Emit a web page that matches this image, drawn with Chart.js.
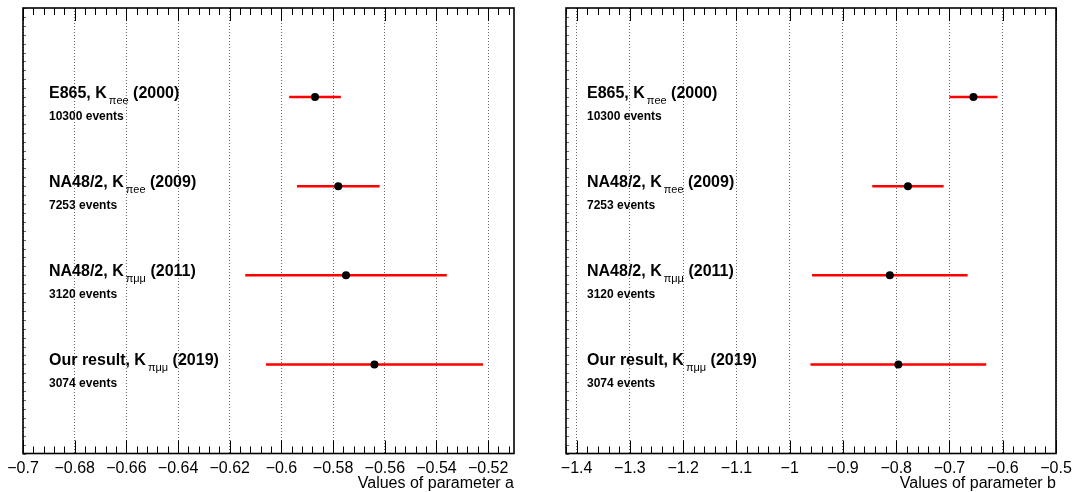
<!DOCTYPE html>
<html>
<head>
<meta charset="utf-8">
<script src="https://cdn.jsdelivr.net/npm/chart.js@4.4.1/dist/chart.umd.min.js"></script>
<style>
  html, body { margin: 0; padding: 0; background: #fff; }
  #wrap { position: relative; width: 1079px; height: 492px; overflow: hidden; }
  .pane { position: absolute; top: 0; height: 492px; }
  #paneA { left: 0; width: 540px; }
  #paneB { left: 540px; width: 539px; }
</style>
</head>
<body>
<div id="wrap">
  <div class="pane" id="paneA"><canvas id="chartA" width="540" height="492"></canvas></div>
  <div class="pane" id="paneB"><canvas id="chartB" width="539" height="492"></canvas></div>
</div>
<script>
// measurements, top to bottom
var EXPERIMENTS = ['E865, K', 'NA48/2, K', 'NA48/2, K', 'Our result, K'];
var CHANNELS = ['\u03c0ee', '\u03c0ee', '\u03c0\u03bc\u03bc', '\u03c0\u03bc\u03bc'];
var YEARS = ['(2000)', '(2009)', '(2011)', '(2019)'];
var EVENTS = ['10300 events', '7253 events', '3120 events', '3074 events'];
var ROWS = [4, 3, 2, 1];

var PARAM_A = [-0.587, -0.578, -0.575, -0.564];
var ERR_A = [0.010, 0.016, 0.039, 0.042];
var PARAM_B = [-0.655, -0.778, -0.812, -0.796];
var ERR_B = [0.045, 0.067, 0.146, 0.165];

var TICKS_A = [-0.7, -0.68, -0.66, -0.64, -0.62, -0.6, -0.58, -0.56, -0.54, -0.52];
var TICKS_B = [-1.4, -1.3, -1.2, -1.1, -1, -0.9, -0.8, -0.7, -0.6, -0.5];

var FONT = "'Liberation Sans', Arial, Helvetica, sans-serif";

// frame + inward ticks (ROOT style)
var framePlugin = {
    id: 'frame',
    afterDraw: function (chart, args, opts) {
        var ctx = chart.ctx;
        var a = chart.chartArea;
        var xs = chart.scales.x;
        var ys = chart.scales.y;
        var ticks = opts.ticks;
        var step = (ticks[1] - ticks[0]) / 5;

        ctx.save();
        ctx.strokeStyle = '#000';
        ctx.lineWidth = 1;
        ctx.beginPath();
        for (var k = -5; k <= ticks.length * 5; k++) {
            var v = ticks[0] + k * step;
            if (v < xs.min - 1e-9 || v > xs.max + 1e-9) continue;
            var px = Math.round(xs.getPixelForValue(v)) + 0.5;
            var len = (k % 5 === 0) ? 13 : 7;
            ctx.moveTo(px, a.bottom);
            ctx.lineTo(px, a.bottom - len);
            ctx.moveTo(px, a.top);
            ctx.lineTo(px, a.top + len);
        }
        ctx.stroke();

        // tiny ticks on the left edge
        ctx.strokeStyle = 'rgba(0,0,0,0.6)';
        ctx.beginPath();
        for (var y = ys.min; y <= ys.max + 1e-9; y += 0.1) {
            var py = Math.round(ys.getPixelForValue(y)) + 0.5;
            ctx.moveTo(a.left, py);
            ctx.lineTo(a.left + 3, py);
        }
        ctx.stroke();

        ctx.strokeStyle = '#000';
        ctx.lineWidth = 1.6;
        ctx.strokeRect(a.left, a.top, a.right - a.left, a.bottom - a.top);
        ctx.restore();
    }
};

// experiment labels
var labelPlugin = {
    id: 'labels',
    afterDraw: function (chart, args, opts) {
        var ctx = chart.ctx;
        var a = chart.chartArea;
        var ys = chart.scales.y;
        ctx.save();
        ctx.fillStyle = '#000';
        ctx.textBaseline = 'alphabetic';
        ctx.textAlign = 'left';
        for (var i = 0; i < EXPERIMENTS.length; i++) {
            var x0 = a.left + opts.dx;
            var y = ys.getPixelForValue(ROWS[i]) + 1;
            var x = x0;
            ctx.font = 'bold 16px ' + FONT;
            ctx.fillText(EXPERIMENTS[i], x, y);
            x += ctx.measureText(EXPERIMENTS[i]).width + 2;
            ctx.font = '11px ' + FONT;
            ctx.fillText(CHANNELS[i], x, y + 6);
            x += ctx.measureText(CHANNELS[i]).width;
            ctx.font = 'bold 16px ' + FONT;
            ctx.fillText(' ' + YEARS[i], x, y);
            ctx.font = 'bold 12px ' + FONT;
            ctx.fillText(EVENTS[i], x0, y + 22);
        }
        ctx.restore();
    }
};

function makeChart(canvasId, values, errors, ticks, min, max, title, padding, dx) {
    var datasets = [{
        label: 'points',
        data: values.map(function (v, i) { return { x: v, y: ROWS[i] }; }),
        pointRadius: 4,
        pointBackgroundColor: '#000',
        pointBorderWidth: 0,
        showLine: false,
        order: 0
    }];
    values.forEach(function (v, i) {
        datasets.push({
            label: 'err' + i,
            data: [{ x: v - errors[i], y: ROWS[i] }, { x: v + errors[i], y: ROWS[i] }],
            showLine: true,
            borderColor: '#ff0000',
            borderWidth: 2.5,
            pointRadius: 0,
            order: 1
        });
    });

    return new Chart(document.getElementById(canvasId).getContext('2d'), {
        type: 'scatter',
        data: { datasets: datasets },
        options: {
            responsive: false,
            animation: false,
            devicePixelRatio: 1,
            layout: { padding: padding },
            plugins: {
                legend: { display: false },
                tooltip: { enabled: false },
                frame: { ticks: ticks },
                labels: { dx: dx }
            },
            scales: {
                x: {
                    type: 'linear',
                    min: min,
                    max: max,
                    afterBuildTicks: function (scale) {
                        scale.ticks = ticks.map(function (t) { return { value: t }; });
                    },
                    grid: {
                        color: 'rgba(0,0,0,0.6)',
                        lineWidth: 1,
                        drawTicks: false
                    },
                    border: { display: false, dash: [1, 2] },
                    ticks: {
                        color: '#000',
                        padding: 7,
                        maxRotation: 0,
                        autoSkip: false,
                        font: { family: FONT, size: 16, lineHeight: 1 },
                        callback: function (v) {
                            return v < 0 ? '\u2212' + Math.abs(v) : String(v);
                        }
                    },
                    title: {
                        display: true,
                        text: title,
                        align: 'end',
                        color: '#000',
                        padding: { top: -8, bottom: 2 },
                        font: { family: FONT, size: 16, lineHeight: 1 }
                    }
                },
                y: {
                    type: 'linear',
                    display: false,
                    min: 0,
                    max: 5
                }
            }
        },
        plugins: [framePlugin, labelPlugin]
    });
}

makeChart('chartA', PARAM_A, ERR_A, TICKS_A, -0.7, -0.51, 'Values of parameter a',
    { left: 23, right: 26, top: 8, bottom: -1.5 }, 26);
makeChart('chartB', PARAM_B, ERR_B, TICKS_B, -1.42, -0.5, 'Values of parameter b',
    { left: 26, right: 23, top: 8, bottom: -1.5 }, 21);
</script>
</body>
</html>
